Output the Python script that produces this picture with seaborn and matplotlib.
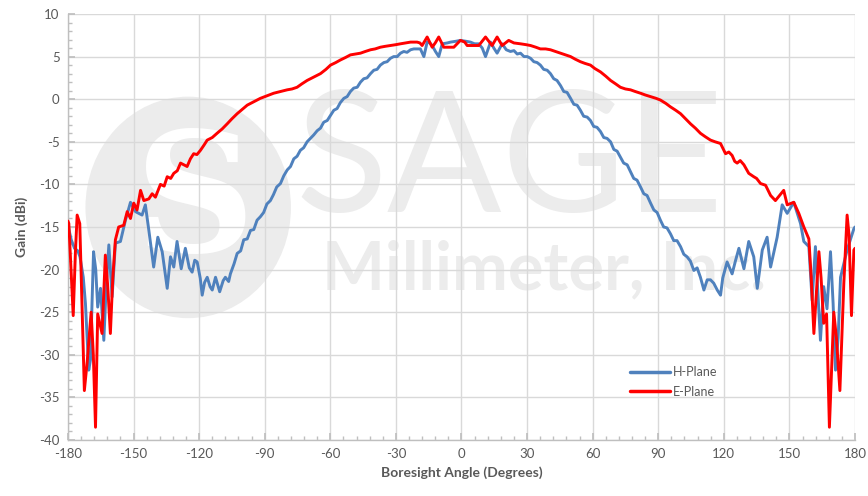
import numpy as np
import pandas as pd
import matplotlib
matplotlib.use("Agg")
import matplotlib.pyplot as plt
import seaborn as sns
from matplotlib.patches import Ellipse
from matplotlib.ticker import MultipleLocator

# ---------------- data ----------------
h_angle = [-180, -178.5, -177, -175.5, -174.5, -173, -172, -170.5, -169.7, -169, -168.3, -167.3,
           -166.4, -165.1, -163.6, -162.5, -161.3, -159.8, -158.3, -156, -153.7, -151.4, -149.1,
           -146.1, -144.6, -143, -140.8, -138.9, -136.9, -134.6, -133.1, -131.6, -130.1, -128.2,
           -126.3, -124.5, -123.2, -122, -120.9, -119.5, -118.6, -117.5, -116.3, -115, -114,
           -112.5, -110.6, -109, -108, -106.5, -105.7, -104, -102.6, -101, -99.6, -98, -96.5, -95,
           -93.5, -92, -90.5, -89, -87.4, -86, -84.5, -82.8, -81.3, -79.7, -78.2, -76.7, -75.2,
           -73.7, -72.2, -70.6, -69.1, -67.6, -66, -64.5, -63, -61.4, -59.9, -58.4, -56.9, -55.4,
           -53.8, -52.3, -50.8, -49.3, -47.7, -46.2, -44.7, -43.2, -41.6, -40.1, -38.6, -37.1,
           -35.5, -34, -32.5, -31, -29.4, -27.9, -26.4, -24.9, -23.3, -21.8, -20.3, -18.8, -17.2,
           -15.7, -14.5, -13.4, -11.9, -10.4, -8.8, -6.5, -5, -2.5, -0.5, 2, 4.1, 6, 7.9, 9.5, 11,
           13.3, 14.8, 16.3, 18.6, 20.5, 22.4, 24, 25.5, 27, 28.6, 30.1, 31.6, 33.1, 34.6, 36.1,
           37.6, 39.2, 40.7, 42.2, 43.7, 45.3, 46.8, 48.3, 49.9, 51.4, 52.9, 54.4, 55.9, 57.5, 59,
           60.5, 62, 63.6, 65.1, 66.6, 68.2, 69.7, 71.2, 72.7, 74.2, 75.8, 77.3, 78.8, 80.3, 81.9,
           83.4, 84.9, 86.5, 88, 89.5, 91, 92.5, 94, 95.6, 97.1, 98.6, 100.2, 101.7, 103.2, 104.7,
           106.3, 107.8, 109.3, 110.9, 112.4, 113.9, 115.4, 117, 118.5, 119.5, 121.5, 123.8,
           125.3, 126.9, 129.2, 131.4, 133.7, 135.3, 137.6, 139.8, 141.4, 144.4, 146.7, 149, 152,
           155.1, 156.6, 158.9, 160.4, 161.9, 164.2, 165.7, 167.2, 168.8, 170, 171.1, 172.3,
           173.4, 176.4, 179.5, 180]
h_gain = [-14.8, -16.5, -17.5, -17.8, -18.5, -20.9, -24, -31.8, -30.6, -24, -17.9, -20,
          -24.4, -22.2, -28.3, -22, -17.1, -23.2, -16.9, -16.7, -14.2, -12.1, -13.2,
          -13.6, -12.4, -15.4, -19.7, -16.2, -17.9, -22.2, -18.5, -19.7, -16.7, -19.9,
          -17.5, -19.8, -20.3, -18.9, -19.1, -21, -23.0, -21.5, -20.9, -22, -22.4,
          -20.9, -22.6, -21.3, -20.9, -21.4, -20.5, -19.3, -18.1, -17.8, -16.5, -16.4, -15.4, -15.3,
          -14.2, -13.8, -13.3, -12.3, -11.9, -11.2, -10.3, -9.9, -9.0, -8.3, -7.9, -7.0, -6.7,
          -6.0, -5.7, -5.0, -4.6, -4.2, -3.7, -3.4, -2.7, -2.5, -1.9, -1.3, -1.1, -0.4,
          0.1, 0.3, 0.9, 1.3, 1.4, 2.0, 2.4, 2.5, 3.0, 3.4, 3.5, 4.0,
          4.3, 4.4, 4.8, 5.0, 5.0, 5.4, 5.6, 5.5, 5.8, 5.9, 5.9, 5.9, 5.0,
          6.7, 6.6, 6.3, 5.6, 5.0, 6.5, 6.6, 6.7, 6.8, 6.9, 6.8, 6.7, 6.5, 6.5, 6.0, 5.0,
          6.7, 6.0, 5.4, 6.5, 5.8, 5.6, 5.7, 5.3, 5.4, 5.0, 5.0, 4.8, 4.4, 4.3, 4.0,
          3.5, 3.4, 3.0, 2.4, 2.2, 1.6, 0.9, 0.8, 0.1, -0.6, -0.7, -1.3, -2.0, -2.1, -2.5,
          -3.2, -3.3, -3.8, -4.5, -4.6, -5.0, -5.9, -6.1, -6.8, -7.5, -7.7, -8.5, -9.3, -9.5, -10.3,
          -11.1, -11.3, -12.2, -13.0, -13.3, -14.2, -15.0, -15.1, -15.8, -16.6, -16.6, -17.3, -18.2, -18.5, -19.0,
          -20.1, -19.8, -20.9, -22.4, -21.2, -21.2, -21.6, -22.4, -23.0, -21.0, -19.1, -20.5,
          -19.0, -17.5, -19.9, -16.7, -18.5, -22.2, -17.7, -16.2, -19.7, -16.2, -12.4, -13.4, -12.1,
          -14.6, -16.7, -17.3, -23.6, -17.3, -28.3, -22.0, -24.6, -17.9, -24, -31.8, -28,
          -20.9, -17.7, -15.2, -15.0]

e_angle = [-180, -179.6, -178.6, -177.6, -176.6, -175.8, -174.6, -173.5, -172.5, -171.2, -169.4,
           -168.4, -167.4, -166.4, -164.4, -162.9, -161.8, -160.6, -159.5, -158.3, -156.8, -154.5,
           -152.9, -151.4, -149.9, -148.4, -146.8, -145.3, -143, -141.5, -140, -137.7, -136,
           -134.6, -133, -131.6, -130, -128.5, -125.5, -124, -122.5, -121, -119.4, -117.8, -116.3,
           -114, -111.8, -109.5, -107.2, -105, -102.6, -100.3, -98, -95, -92, -89, -85.9, -82.8,
           -79.7, -77.5, -75.2, -73, -70.6, -67.5, -64.5, -62, -59.9, -57.5, -55.4, -53, -50.8,
           -48.5, -46.2, -44, -41.6, -39.5, -37.1, -35, -32.5, -30, -27.9, -25.5, -23.3, -20.3,
           -19, -18, -15.7, -13.4, -12, -10.4, -8.1, -5.5, -3.5, -2, -0.5, 1.5, 2.6, 4.1, 6, 7.9,
           11, 14, 16.3, 18.6, 21.6, 24, 27, 29.5, 31.6, 34, 36.1, 38.5, 40.7, 43, 45.3, 47.5,
           49.9, 52, 54.4, 56.5, 59, 61, 63.6, 66, 68.2, 70.5, 72.7, 75, 77.3, 79.5, 81.9, 84,
           86.5, 89, 91, 93.5, 95.6, 98, 100.2, 102.5, 104.8, 107, 109.3, 111.5, 113.9, 116,
           118.5, 120.8, 122.3, 123.8, 125, 126.1, 127.5, 129.2, 131.4, 133.7, 135, 136.8, 139.1,
           141.4, 143.6, 145.5, 147.4, 149, 152, 154.3, 156.6, 158.9, 160, 161.2, 163.5, 164.5,
           165.7, 167, 168.3, 170.3, 171.5, 173.1, 174.9, 176.4, 177.3, 178.4, 179.5, 180]
e_gain = [-14.3, -14.6, -20, -25.4, -18, -13.6, -14.6, -25, -34.2, -30.8, -25.0,
          -30, -38.5, -25.2, -27.5, -18.3, -22, -27.5, -21, -16.5, -15.0, -14.8,
          -13.2, -14.0, -12.2, -13.0, -10.7, -11.9, -11.7, -11.1, -11.5, -10.0, -10.2,
          -9.1, -9.3, -8.7, -8.4, -7.5, -7.9, -7.0, -6.4, -6.5, -6.0, -5.4, -4.8,
          -4.5, -4.0, -3.5, -2.9, -2.3, -1.7, -1.2, -0.7, -0.3, 0.1, 0.4, 0.7, 0.9,
          1.1, 1.2, 1.4, 1.8, 2.2, 2.6, 3.0, 3.5, 4.0, 4.3, 4.6, 4.9, 5.2,
          5.3, 5.4, 5.6, 5.8, 5.9, 6.1, 6.2, 6.3, 6.4, 6.5, 6.6, 6.7, 6.7,
          6.6, 6.3, 7.3, 6.1, 6.6, 7.3, 6.1, 6.1, 6.1, 6.5, 6.9, 6.7, 6.3, 6.3, 6.3, 6.3,
          7.3, 6.3, 7.3, 6.3, 6.9, 6.6, 6.5, 6.4, 6.3, 6.1, 5.9, 5.9, 5.8, 5.6, 5.4, 5.2,
          5.0, 4.7, 4.4, 4.2, 4.0, 3.6, 3.2, 2.7, 2.2, 1.8, 1.4, 1.2, 1.1, 0.9, 0.7, 0.5,
          0.3, 0.1, -0.1, -0.5, -0.9, -1.3, -1.7, -2.3, -2.9, -3.4, -4.0, -4.4, -4.8, -5.0,
          -5.2, -6.4, -6.2, -6.6, -7.3, -7.5, -7.2, -7.7, -8.7, -9.1, -9.3, -9.9, -10.1,
          -11.3, -11.9, -11.3, -10.7, -12.4, -12.1, -13.4, -15.0, -16.4, -21, -27.5, -17.9, -21,
          -26.3, -25.2, -38.5, -25.0, -28, -34.2, -21.6, -13.6, -16, -25.4, -17.7, -17.5]

series_names = ["H-Plane", "E-Plane"]
series_colors = ["#4f81bd", "#ff0000"]
x_ticks = [-180, -150, -120, -90, -60, -30, 0, 30, 60, 90, 120, 150, 180]
y_ticks = [-40, -35, -30, -25, -20, -15, -10, -5, 0, 5, 10]

df = pd.concat([
    pd.DataFrame({"angle": h_angle, "gain": h_gain, "series": series_names[0]}),
    pd.DataFrame({"angle": e_angle, "gain": e_gain, "series": series_names[1]}),
], ignore_index=True)

# ---------------- figure ----------------
sns.set_theme(style="white")
plt.rcParams["font.family"] = ["Lato", "DejaVu Sans"]
fig = plt.figure(figsize=(8.68, 4.96), dpi=100)
ax = fig.add_axes([0.0783, 0.1129, 0.9067, 0.8589])

# watermark (logo disc + company name)
wm = "#ececec"
ax.add_patch(Ellipse((-125, -12.7), 94, 26, facecolor=wm, edgecolor="none", zorder=0.4))
ax.text(-122, -12.5, "S", fontsize=120, color="white", ha="center", va="center",
        family="DejaVu Serif", fontweight="bold", zorder=0.45)
ax.text(22, -13.2, "SAGE", fontsize=122, color=wm, ha="center", va="baseline", zorder=0.5)
ax.text(38, -22.3, "Millimeter, Inc.", fontsize=48, color=wm, ha="center", va="baseline",
        fontweight="bold", zorder=0.5)

sns.lineplot(data=df, x="angle", y="gain", hue="series", hue_order=series_names,
             palette=series_colors, estimator=None, sort=False, linewidth=2.1, ax=ax,
             zorder=3)

ax.set_xlim(-180, 180)
ax.set_ylim(-40, 10)
ax.set_xticks(x_ticks)
ax.set_yticks(y_ticks)
ax.set_xticklabels([str(v) for v in x_ticks])
ax.set_yticklabels([str(v) for v in y_ticks])
ax.xaxis.set_minor_locator(MultipleLocator(6))
ax.yaxis.set_minor_locator(MultipleLocator(1))
ax.grid(True, which="major", color="#d9d9d9", linewidth=1.0, zorder=0)
ax.set_axisbelow(True)

for s in ["top", "right"]:
    ax.spines[s].set_visible(False)
for s in ["left", "bottom"]:
    ax.spines[s].set_color("#bfbfbf")
    ax.spines[s].set_linewidth(1.0)

ax.tick_params(axis="both", which="major", direction="in", length=5, color="#bfbfbf",
               labelsize=9.5, labelcolor="#595959", pad=6)
ax.tick_params(axis="both", which="minor", direction="in", length=3, color="#bfbfbf")
ax.tick_params(axis="x", which="both", bottom=True)
ax.tick_params(axis="y", which="both", left=True)

ax.set_xlabel("Boresight Angle (Degrees)", fontsize=10, fontweight="bold", color="#595959",
              labelpad=4)
ax.set_ylabel("Gain (dBi)", fontsize=10, fontweight="bold", color="#595959", labelpad=8)

leg = ax.legend(loc="upper left", bbox_to_anchor=(0.70, 0.20), frameon=False,
                fontsize=9, handlelength=3.2, labelspacing=0.6, handletextpad=0.2)
for t in leg.get_texts():
    t.set_color("#595959")
for l in leg.get_lines():
    l.set_linewidth(2.5)

fig.savefig("out.png", dpi=100)
